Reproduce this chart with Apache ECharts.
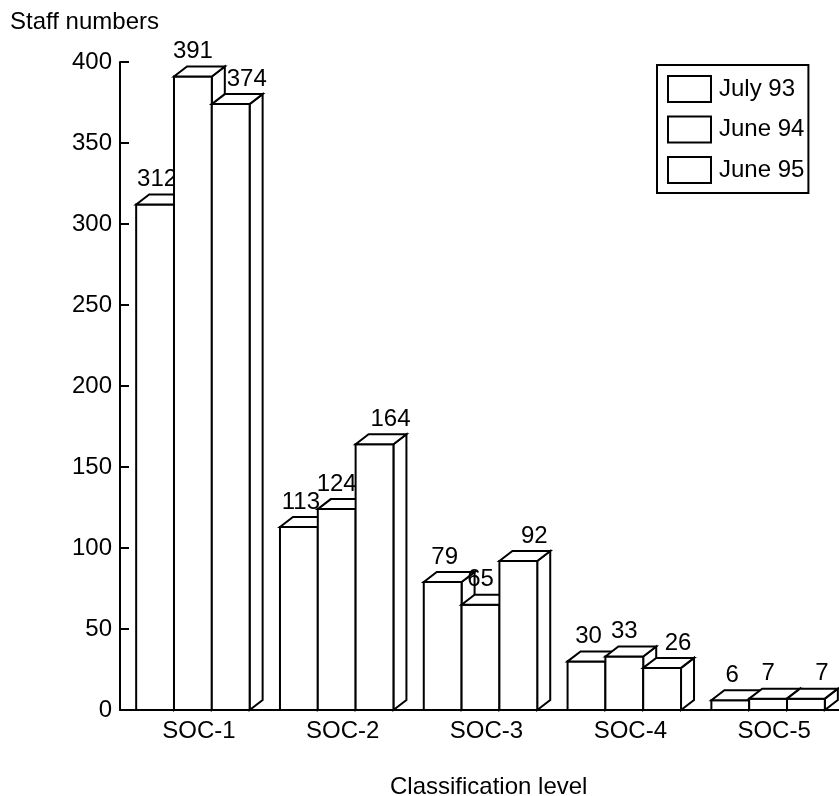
<!DOCTYPE html>
<html>
<head>
<meta charset="utf-8">
<script src="https://cdn.jsdelivr.net/npm/echarts@6/dist/echarts.min.js"></script>
<style>
  html, body { margin: 0; padding: 0; background: #fff; }
  #main { width: 839px; height: 796px; }
</style>
</head>
<body>
<div id="main"></div>
<script>
var categories = ['SOC-1', 'SOC-2', 'SOC-3', 'SOC-4', 'SOC-5'];
var seriesNames = ['July 93', 'June 94', 'June 95'];
var july93 = [312, 113, 79, 30, 6];
var june94 = [391, 124, 65, 33, 7];
var june95 = [374, 164, 92, 26, 7];
var yTicks = [0, 50, 100, 150, 200, 250, 300, 350, 400];

var chartDom = document.getElementById('main');
var myChart = echarts.init(chartDom);

var FONT = '"Liberation Sans", Arial, sans-serif';
var DX = 13, DY = 10;           // depth of the 3d boxes
var labelShift = [2, 0, 16];    // label nudge per series

function makeRender(idx) {
  return function (params, api) {
    var cat = api.value(0);
    var val = api.value(1);
    var base = api.coord([cat, 0]);
    var top = api.coord([cat, val]);
    var band = api.size([1, 0])[0];
    var bw = band * 0.263;
    var x0 = base[0] - 1.5 * bw + idx * bw + 1;
    var x1 = x0 + bw;
    var y0 = base[1];
    var yt = top[1];
    var st = { fill: '#fff', stroke: '#000', lineWidth: 2, lineJoin: 'miter' };
    return {
      type: 'group',
      children: [
        { type: 'polygon', shape: { points: [[x1, yt], [x1 + DX, yt - DY], [x1 + DX, y0 - DY], [x1, y0]] }, style: st },
        { type: 'rect', shape: { x: x0, y: yt, width: bw, height: y0 - yt }, style: st },
        { type: 'polygon', shape: { points: [[x0, yt], [x0 + DX, yt - DY], [x1 + DX, yt - DY], [x1, yt]] }, style: st },
        {
          type: 'text',
          x: (x0 + x1) / 2 + labelShift[idx],
          y: yt - DY - 3,
          style: {
            text: String(val), fill: '#000', font: '24px ' + FONT,
            textAlign: 'center', textVerticalAlign: 'bottom'
          }
        }
      ]
    };
  };
}

var allData = [july93, june94, june95];
var series = allData.map(function (arr, i) {
  return {
    type: 'custom',
    name: seriesNames[i],
    renderItem: makeRender(i),
    itemStyle: { color: '#fff', borderColor: '#000', borderWidth: 2 },
    encode: { x: 0, y: 1 },
    data: arr.map(function (v, k) { return [k, v]; }),
    clip: false,
    animation: false
  };
});

var option = {
  backgroundColor: '#fff',
  animation: false,
  textStyle: { fontFamily: FONT },
  title: [
    { text: 'Staff numbers', left: 10, top: 10, padding: 0,
      textStyle: { fontSize: 24, fontWeight: 'normal', color: '#000', fontFamily: FONT } },
    { text: 'Classification level', left: 390, top: 775, padding: 0,
      textStyle: { fontSize: 24, fontWeight: 'normal', color: '#000', fontFamily: FONT } }
  ],
  legend: {
    orient: 'vertical',
    left: 657, top: 65,
    data: seriesNames,
    icon: 'rect',
    itemWidth: 43, itemHeight: 26, itemGap: 12.5,
    padding: [10, 4, 9, 10],
    borderColor: '#000', borderWidth: 2, borderRadius: 0,
    itemStyle: { color: '#fff', borderColor: '#000', borderWidth: 2 },
    textStyle: { fontSize: 24, lineHeight: 26, color: '#000', fontFamily: FONT, padding: [0, 0, 0, 3] },
    selectedMode: false
  },
  grid: { left: 120, top: 62, width: 725, height: 648, containLabel: false },
  xAxis: {
    type: 'category',
    data: categories,
    axisLine: { lineStyle: { color: '#000', width: 2 } },
    axisTick: { show: false },
    axisLabel: { fontSize: 24, color: '#000', margin: 9, padding: [0, 0, 0, 14], fontFamily: FONT },
    splitLine: { show: false }
  },
  yAxis: {
    type: 'value',
    min: yTicks[0], max: yTicks[yTicks.length - 1], interval: yTicks[1] - yTicks[0],
    axisLine: { show: true, lineStyle: { color: '#000', width: 2 } },
    axisTick: { show: true, inside: true, length: 9, lineStyle: { color: '#000', width: 2 } },
    axisLabel: { fontSize: 24, color: '#000', margin: 8, fontFamily: FONT },
    splitLine: { show: false }
  },
  series: series
};

myChart.setOption(option);
</script>
</body>
</html>
